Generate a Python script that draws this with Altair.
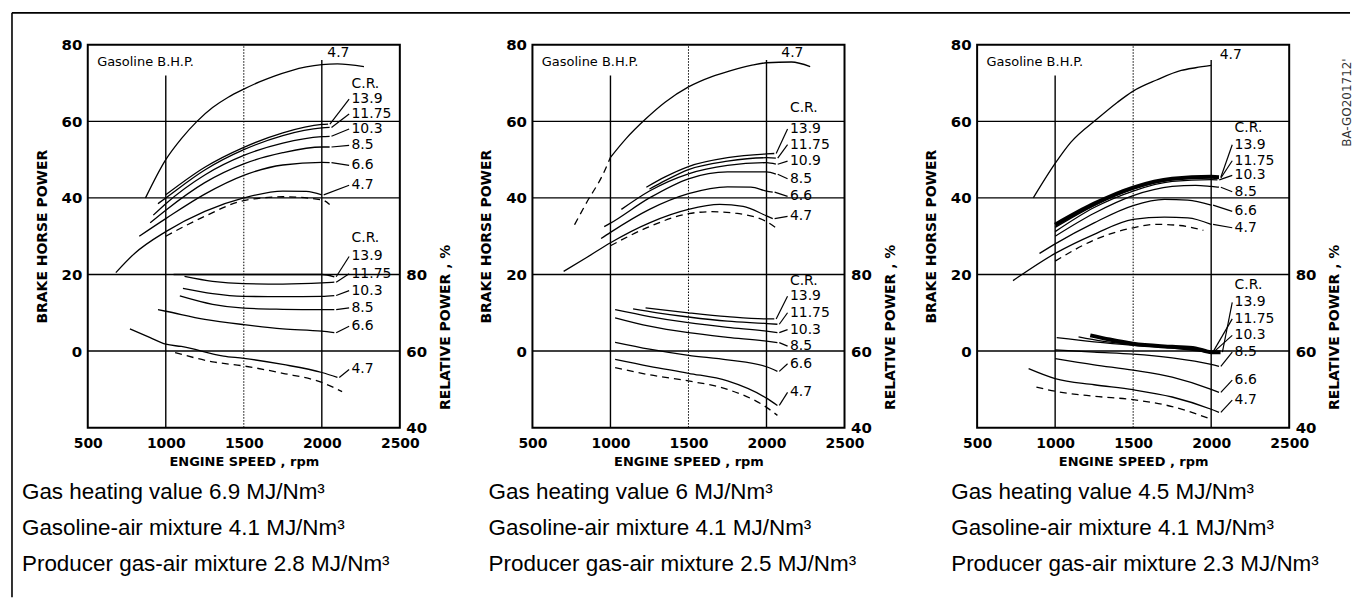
import altair as alt
import pandas as pd

RPM_TICKS = [500, 1000, 1500, 2000, 2500]
BHP_TICKS = [0, 20, 40, 60, 80]
REL_TICKS = [40, 60, 80]
CR_A = ["13.9", "11.75", "10.3", "8.5", "6.6", "4.7"]
CR_B = ["13.9", "11.75", "10.9", "8.5", "6.6", "4.7"]

CAPTIONS = [
    ["Gas heating value 6.9 MJ/Nm³", "Gasoline-air mixture 4.1 MJ/Nm³", "Producer gas-air mixture 2.8 MJ/Nm³"],
    ["Gas heating value 6 MJ/Nm³", "Gasoline-air mixture 4.1 MJ/Nm³", "Producer gas-air mixture 2.5 MJ/Nm³"],
    ["Gas heating value 4.5 MJ/Nm³", "Gasoline-air mixture 4.1 MJ/Nm³", "Producer gas-air mixture 2.3 MJ/Nm³"],
]

# ---------------- Panel 1 (gas 6.9 MJ/Nm3) ----------------
P1_GAS = [(870, 40), (1000, 50), (1100, 55.5), (1200, 60), (1300, 63.6), (1400, 66.3), (1500, 68.4),
          (1600, 70.3), (1700, 71.9), (1800, 73.2), (1900, 74.2), (2000, 74.8), (2100, 75), (2270, 74.3)]
P1_GAS_DASH = []
P1_BHP = {
    "13.9": [(1000, 40.8), (1250, 48), (1500, 53.2), (1750, 57), (2000, 59.2), (2040, 59.3)],
    "11.75": [(950, 38.5), (1000, 40), (1250, 47.3), (1500, 52.6), (1750, 56.3), (2000, 58.3), (2050, 58.4)],
    "10.3": [(920, 35.5), (1000, 38.5), (1250, 46), (1500, 51.1), (1750, 54.3), (2000, 56), (2050, 56.1)],
    "8.5": [(900, 33.5), (1000, 36.8), (1250, 44), (1500, 48.9), (1750, 51.8), (2000, 53.3), (2050, 53.3)],
    "6.6": [(830, 30), (1000, 34.6), (1250, 41), (1500, 45.9), (1750, 48.6), (2000, 49.3), (2050, 49.2)],
    "4.7": [(680, 20.5), (800, 25.5), (1000, 31.2), (1250, 36.5), (1500, 40), (1750, 41.8), (1900, 41.7), (2000, 40.8)],
}
P1_BHP_DASH = [(1000, 30), (1250, 35.2), (1500, 39.3), (1750, 40.3), (2000, 39.5), (2050, 38.3)]
P1_REL = {
    "13.9": [(1050, 80), (1500, 80), (2000, 80), (2080, 79.4)],
    "11.75": [(1120, 79.5), (1300, 78.2), (1500, 77.6), (1750, 77.5), (2000, 77.8), (2080, 78)],
    "10.3": [(1110, 76.4), (1300, 75), (1500, 74.3), (1750, 74.2), (2000, 74.3), (2080, 74.5)],
    "8.5": [(1090, 74.4), (1300, 72.2), (1500, 71.2), (1750, 70.9), (2000, 70.8), (2080, 70.8)],
    "6.6": [(950, 70.8), (1000, 70.4), (1250, 68.3), (1500, 66.9), (1750, 65.8), (2000, 65.2), (2080, 64.8)],
    "4.7": [(770, 65.8), (900, 63.5), (1000, 61.8), (1100, 61.2), (1370, 58.7), (1500, 58.1), (1750, 56.5),
            (2000, 54.4), (2100, 53.1)],
}
P1_REL_DASH = [(1060, 59.6), (1300, 57.2), (1500, 56.1), (1750, 54.2), (2000, 51.8), (2130, 49.4)]
P1_TOP_LABEL = (2035, 77.9)
P1_UP_LABEL_Y = [69.7, 65.8, 61.9, 58.0, 53.7, 48.5, 43.3]
P1_LO_LABEL_Y = [29.4, 24.7, 20.2, 15.8, 11.3, 6.5, -4.8]
P1_LABEL_X = 2190

# ---------------- Panel 2 (gas 6 MJ/Nm3) ----------------
P2_GAS = [(1000, 50.6), (1100, 55.5), (1225, 60.6), (1350, 65), (1500, 69), (1650, 71.7), (1766, 73.2),
          (1900, 74.6), (2000, 75.3), (2160, 75.5), (2280, 74.3)]
P2_GAS_DASH = [(770, 33), (850, 39), (950, 46), (1000, 50.6)]
P2_BHP = {
    "13.9": [(1230, 42.8), (1350, 45.5), (1500, 48.2), (1750, 50.5), (2000, 51.5), (2050, 51.6)],
    "11.75": [(1250, 42.3), (1350, 44.5), (1500, 47.4), (1750, 49.6), (2000, 50.5), (2060, 50.4)],
    "10.9": [(1070, 37), (1250, 41.8), (1500, 46.3), (1750, 48.5), (2000, 49.2), (2060, 48.8)],
    "8.5": [(960, 32.5), (1000, 33.4), (1250, 40), (1500, 45), (1750, 46.8), (2000, 46.8), (2060, 46.2)],
    "6.6": [(940, 29.4), (1000, 31), (1250, 37), (1500, 41.1), (1750, 42.9), (1900, 42.8), (2000, 41.8), (2040, 41.5)],
    "4.7": [(700, 20.8), (850, 24.5), (1000, 28.3), (1250, 33.5), (1500, 37), (1700, 38.3), (1850, 37.8),
            (2000, 35.3), (2040, 34.6)],
}
P2_BHP_DASH = [(1000, 27.5), (1250, 32.5), (1500, 35.9), (1650, 36.4), (1800, 36), (2000, 33.8), (2080, 31.6)]
P2_REL = {
    "13.9": [(1225, 71.3), (1500, 70), (1750, 69), (2000, 68.4), (2050, 68.4)],
    "11.75": [(1145, 71), (1300, 70), (1500, 68.9), (1750, 67.8), (2000, 67.2), (2070, 67)],
    "10.3": [(1030, 70.8), (1250, 69), (1500, 67.4), (1750, 66.2), (2000, 65.2), (2070, 64.8)],
    "8.5": [(1030, 68.7), (1250, 66.5), (1500, 64.8), (1750, 63.6), (2000, 62.6), (2070, 62.2)],
    "6.6": [(1030, 62.3), (1250, 60.5), (1500, 58.9), (1750, 57.7), (2000, 55.9), (2070, 54.7)],
    "4.7": [(1030, 57.8), (1250, 56), (1500, 54.2), (1750, 52.2), (2000, 47.7), (2070, 45.8)],
}
P2_REL_DASH = [(1030, 55.7), (1250, 53.8), (1500, 52.2), (1750, 50), (2000, 45.3), (2070, 43.2)]
P2_TOP_LABEL = (2095, 77.9)
P2_UP_LABEL_Y = [63.6, 58.0, 53.9, 49.6, 45.0, 40.4, 35.2]
P2_LO_LABEL_Y = [18.4, 14.3, 10.0, 5.6, 1.3, -3.3, -10.8]
P2_LABEL_X = 2150

# ---------------- Panel 3 (gas 4.5 MJ/Nm3) ----------------
P3_GAS = [(860, 40), (1000, 49), (1100, 54.5), (1274, 60.8), (1400, 65), (1500, 67.9), (1650, 70.8),
          (1808, 73.3), (1900, 74), (2000, 74.6)]
P3_GAS_DASH = []
P3_BHP = {
    "13.9": [(1000, 33), (1250, 38.5), (1500, 42.7), (1750, 45), (2000, 45.5), (2050, 45.4)],
    "11.75": [(1000, 32.3), (1250, 38), (1500, 42.3), (1750, 44.8), (2000, 45.3), (2050, 45.2)],
    "10.3": [(1000, 31.2), (1250, 37.5), (1500, 41.8), (1750, 44.3), (2000, 44.8), (2040, 44.7)],
    "8.5": [(1000, 30), (1250, 36), (1500, 40.6), (1750, 43), (1900, 43.3), (2000, 43), (2050, 42.8)],
    "6.6": [(900, 25.5), (1000, 28), (1250, 33.5), (1500, 38), (1700, 39.6), (1850, 39.4), (2000, 38.1)],
    "4.7": [(730, 18.4), (1000, 25.5), (1250, 30.5), (1500, 34.4), (1700, 35), (1850, 34.8), (2000, 33.1)],
}
P3_BHP_DASH = [(1000, 23.5), (1250, 29), (1500, 32.2), (1650, 33.1), (1800, 32.8), (1950, 31.5)]
P3_REL = {
    "13.9": [(1225, 64.1), (1350, 63), (1500, 61.9), (1750, 61.1), (1900, 60.7), (2000, 59.7), (2060, 59.7)],
    "11.75": [(1150, 63.7), (1300, 62.6), (1500, 61.7), (1750, 61), (2000, 59.8)],
    "10.3": [(1010, 63.5), (1250, 62.4), (1500, 61.5), (1750, 60.8), (2000, 59.6)],
    "8.5": [(1000, 60.3), (1250, 59.7), (1500, 59.2), (1750, 58.2), (2000, 56.5), (2050, 56)],
    "6.6": [(1000, 58), (1250, 56.4), (1500, 55), (1750, 53.2), (2000, 50), (2050, 49.2)],
    "4.7": [(830, 55.4), (1000, 52.8), (1250, 51.2), (1500, 49.9), (1750, 48), (2000, 44.8), (2050, 44)],
}
P3_REL_DASH = [(880, 50.6), (1000, 49.5), (1250, 48.2), (1500, 47.3), (1750, 45.5), (2000, 42.2)]
P3_TOP_LABEL = (2055, 77.2)
P3_UP_LABEL_Y = [58.2, 53.9, 49.7, 45.9, 41.6, 36.5, 32.2]
P3_LO_LABEL_Y = [17.3, 12.7, 8.4, 4.1, -0.3, -7.6, -12.8]
P3_LABEL_X = 2150

H_GRID = [0, 20, 40, 60]
V_GRID = [(1000, -20, 72), (2000, -20, 76)]
V_DOTTED = [(1500, -20, 80)]

PANELS = [
    dict(gas=P1_GAS, gas_dash=P1_GAS_DASH, bhp=P1_BHP, bhp_dash=P1_BHP_DASH, rel=P1_REL, rel_dash=P1_REL_DASH,
         top=P1_TOP_LABEL, up_y=P1_UP_LABEL_Y, lo_y=P1_LO_LABEL_Y, lx=P1_LABEL_X, cr_up=CR_A, cr_lo=CR_A,
         thick=[], cap=CAPTIONS[0], cap_dx=-66),
    dict(gas=P2_GAS, gas_dash=P2_GAS_DASH, bhp=P2_BHP, bhp_dash=P2_BHP_DASH, rel=P2_REL, rel_dash=P2_REL_DASH,
         top=P2_TOP_LABEL, up_y=P2_UP_LABEL_Y, lo_y=P2_LO_LABEL_Y, lx=P2_LABEL_X, cr_up=CR_B, cr_lo=CR_A,
         thick=[], cap=CAPTIONS[1], cap_dx=-44),
    dict(gas=P3_GAS, gas_dash=P3_GAS_DASH, bhp=P3_BHP, bhp_dash=P3_BHP_DASH, rel=P3_REL, rel_dash=P3_REL_DASH,
         top=P3_TOP_LABEL, up_y=P3_UP_LABEL_Y, lo_y=P3_LO_LABEL_Y, lx=P3_LABEL_X, cr_up=CR_A, cr_lo=CR_A,
         thick=["13.9"], cap=CAPTIONS[2], cap_dx=-26),
]

W, H = 313, 384
LAB_FONT = "DejaVu Sans"

x_axis = alt.Axis(values=RPM_TICKS, format="d", title="ENGINE SPEED , rpm", ticks=False, domain=False,
                  grid=False, labelFlush=False, labelFont=LAB_FONT, labelFontWeight="bold", labelFontSize=14,
                  labelPadding=9, labelColor="black", titleFont=LAB_FONT, titleFontWeight="bold",
                  titleFontSize=13, titlePadding=5, titleColor="black")
left_axis = alt.Axis(values=BHP_TICKS, format="d", title="BRAKE HORSE POWER", ticks=False, domain=False,
                     grid=False, labelFlush=False, labelFont=LAB_FONT, labelFontWeight="bold", labelFontSize=15,
                     labelPadding=6, labelColor="black", titleFont=LAB_FONT, titleFontWeight="bold",
                     titleFontSize=14, titlePadding=12, titleColor="black")
right_axis = alt.Axis(orient="right", values=REL_TICKS, format="d", title="RELATIVE POWER , %", ticks=False,
                      domain=False, grid=False, labelFlush=False, labelFont=LAB_FONT, labelFontWeight="bold",
                      labelFontSize=15, labelPadding=6, labelColor="black", titleFont=LAB_FONT,
                      titleFontWeight="bold", titleFontSize=14, titlePadding=26, titleColor="black",
                      titleAngle=270, titleY=283)

XS = alt.Scale(domain=[500, 2500], nice=False, zero=False)
YS = alt.Scale(domain=[-20, 80], nice=False, zero=False)
RS = alt.Scale(domain=[40, 140], nice=False, zero=False)


def X(field="rpm"):
    return alt.X(f"{field}:Q", scale=XS, axis=x_axis)


def Y(field="v"):
    return alt.Y(f"{field}:Q", scale=YS, axis=left_axis)


def rows(curves):
    out = []
    for name, pts in curves.items():
        for r, v in pts:
            out.append({"curve": name, "rpm": r, "v": v})
    return pd.DataFrame(out)


def line(df, y, **kw):
    style = dict(color="black", strokeWidth=1.3, interpolate="monotone")
    style.update(kw)
    return alt.Chart(df).mark_line(**style).encode(x=X(), y=y, detail="curve:N")


def panel(i, p):
    left = []
    # grid
    left.append(alt.Chart(pd.DataFrame({"v": H_GRID})).mark_rule(color="black", strokeWidth=1.4)
                .encode(y=Y()))
    vg = pd.DataFrame(V_GRID, columns=["rpm", "y1", "y2"])
    left.append(alt.Chart(vg).mark_rule(color="black", strokeWidth=1.4)
                .encode(x=X(), y=Y("y1"), y2="y2:Q"))
    vd = pd.DataFrame(V_DOTTED, columns=["rpm", "y1", "y2"])
    left.append(alt.Chart(vd).mark_rule(color="black", strokeWidth=1, strokeDash=[1.5, 1.5])
                .encode(x=X(), y=Y("y1"), y2="y2:Q"))
    # gasoline
    left.append(line(rows({"gas": p["gas"]}), Y()))
    if p["gas_dash"]:
        left.append(line(rows({"gasd": p["gas_dash"]}), Y(), strokeDash=[7, 5]))
    # producer gas BHP
    normal = {k: v for k, v in p["bhp"].items() if k not in p["thick"]}
    thick = {k: v for k, v in p["bhp"].items() if k in p["thick"]}
    left.append(line(rows(normal), Y()))
    if thick:
        left.append(line(rows(thick), Y(), strokeWidth=4))
    left.append(line(rows({"d": p["bhp_dash"]}), Y(), strokeDash=[7, 5]))

    # labels
    lab = []
    lead = []
    names_up = list(p["bhp"].keys())
    lab.append({"t": "C.R.", "rpm": p["lx"], "v": p["up_y"][0]})
    for k, (nm, yy) in enumerate(zip(p["cr_up"], p["up_y"][1:])):
        lab.append({"t": nm, "rpm": p["lx"], "v": yy})
        end = p["bhp"][names_up[k]][-1]
        lead.append({"rpm": p["lx"] - 15, "v": yy, "rpm2": end[0] + 12, "v2": end[1]})
    names_lo = list(p["rel"].keys())
    lab.append({"t": "C.R.", "rpm": p["lx"], "v": p["lo_y"][0]})
    for k, (nm, yy) in enumerate(zip(p["cr_lo"], p["lo_y"][1:])):
        lab.append({"t": nm, "rpm": p["lx"], "v": yy})
        end = p["rel"][names_lo[k]][-1]
        lead.append({"rpm": p["lx"] - 15, "v": yy, "rpm2": end[0] + 12, "v2": end[1] - 60})
    lab.append({"t": "4.7", "rpm": p["top"][0], "v": p["top"][1]})
    left.append(alt.Chart(pd.DataFrame(lead)).mark_rule(color="black", strokeWidth=1.2)
                .encode(x=X(), y=Y(), x2="rpm2:Q", y2="v2:Q"))
    left.append(alt.Chart(pd.DataFrame(lab)).mark_text(font=LAB_FONT, fontSize=14, align="left",
                                                       baseline="middle", color="black")
                .encode(x=X(), y=Y(), text="t:N"))
    left.append(alt.Chart(pd.DataFrame({"t": ["Gasoline B.H.P."], "rpm": [560], "v": [75.6]}))
                .mark_text(font=LAB_FONT, fontSize=13, fontWeight="normal", align="left", baseline="middle",
                           color="black")
                .encode(x=X(), y=Y(), text="t:N"))
    # captions
    for j, txt in enumerate(p["cap"]):
        left.append(alt.Chart(alt.Data(values=[{}])).mark_text(
            font="Liberation Sans", fontSize=22.5, align="left", baseline="middle", color="black", text=txt)
            .encode(x=alt.value(p["cap_dx"]), y=alt.value(449 + 36 * j)))
    if i == 0:
        left.append(alt.Chart(alt.Data(values=[{}])).mark_rule(color="black", strokeWidth=1.6)
                    .encode(x=alt.value(-76), x2=alt.value(1266), y=alt.value(-32)))
        left.append(alt.Chart(alt.Data(values=[{}])).mark_rule(color="black", strokeWidth=1.6)
                    .encode(x=alt.value(-76), y=alt.value(-32), y2=alt.value(554)))
    if i == 2:
        left.append(alt.Chart(alt.Data(values=[{}])).mark_text(
            font=LAB_FONT, fontSize=12, angle=270, align="center", baseline="middle", color="#333",
            text="BA-GO201712'").encode(x=alt.value(371), y=alt.value(58)))

    # relative power (right axis)
    right = []
    rnormal = {k: v for k, v in p["rel"].items() if k not in p["thick"]}
    rthick = {k: v for k, v in p["rel"].items() if k in p["thick"]}
    RY = alt.Y("v:Q", scale=RS, axis=right_axis)
    right.append(line(rows(rnormal), RY))
    if rthick:
        right.append(line(rows(rthick), RY, strokeWidth=4))
    right.append(line(rows({"d": p["rel_dash"]}), RY, strokeDash=[7, 5]))

    return (alt.layer(alt.layer(*left), alt.layer(*right))
            .resolve_scale(y="independent")
            .properties(width=W, height=H))


chart = (alt.hconcat(*[panel(i, p) for i, p in enumerate(PANELS)], spacing=133, bounds="flush")
         .properties(padding={"left": 2, "top": 2, "right": 0, "bottom": 0}, background="white")
         .configure_view(stroke="black", strokeWidth=2))

chart.save("out.html", embed_options={"renderer": "svg", "actions": False})
